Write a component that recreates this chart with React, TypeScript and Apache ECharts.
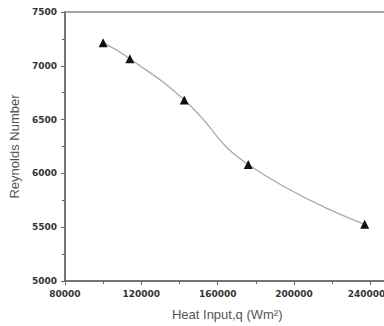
import React, { useEffect, useRef } from "react";
import * as echarts from "echarts";

// Heat input (W/m²) against Reynolds number
const heatInput = [100000, 114000, 142500, 176000, 237000];
const reynolds = [7215, 7066, 6682, 6082, 5527];

const xTicks = { min: 80000, max: 250000, interval: 40000 };
const yTicks = { min: 5000, max: 7500, interval: 500 };
const lastXLabel = 240000;

const xTitle = "Heat Input,q (Wm²)";
const yTitle = "Reynolds Number";

export default function App() {
  const ref = useRef<HTMLDivElement>(null);

  useEffect(() => {
    if (!ref.current) return;
    const chart = echarts.init(ref.current, undefined, { renderer: "svg" });
    const tickLabel = {
      color: "#333",
      fontSize: 9,
      fontWeight: "bold" as const,
      fontFamily: "DejaVu Sans",
    };
    chart.setOption({
      animation: false,
      backgroundColor: "#fff",
      grid: {
        left: 58,
        top: 12,
        right: 10.5,
        bottom: 45,
        show: true,
        borderColor: "#888",
        borderWidth: 1.5,
      },
      xAxis: {
        type: "value",
        ...xTicks,
        splitLine: { show: false },
        axisLine: { show: true, onZero: false, lineStyle: { color: "#666", width: 1.5 } },
        axisTick: { show: true, length: 4, lineStyle: { color: "#666", width: 1 } },
        minorTick: { show: true, splitNumber: 2, length: 3, lineStyle: { color: "#666" } },
        axisLabel: {
          ...tickLabel,
          margin: 8,
          showMaxLabel: false,
          formatter: (v: number) => (v === lastXLabel ? `{edge|${v}}` : String(v)),
          rich: { edge: { ...tickLabel, padding: [0, 8, 0, 0] } },
        },
        name: xTitle,
        nameLocation: "middle",
        nameGap: 27,
        nameTextStyle: { color: "#555", fontSize: 13, fontFamily: "Liberation Sans" },
      },
      yAxis: {
        type: "value",
        ...yTicks,
        splitLine: { show: false },
        axisLine: { show: true, onZero: false, lineStyle: { color: "#666", width: 1.5 } },
        axisTick: { show: true, length: 4, lineStyle: { color: "#666", width: 1 } },
        minorTick: { show: true, splitNumber: 2, length: 3, lineStyle: { color: "#666" } },
        axisLabel: { ...tickLabel, margin: 8, formatter: (v: number) => String(v) },
        name: yTitle,
        nameLocation: "middle",
        nameGap: 38,
        nameRotate: 90,
        nameTextStyle: { color: "#555", fontSize: 13, fontFamily: "Liberation Sans" },
      },
      series: [
        {
          type: "line",
          data: heatInput.map((x, i) => [x, reynolds[i]]),
          smooth: true,
          symbol: "triangle",
          symbolSize: 9,
          itemStyle: { color: "#111" },
          lineStyle: { color: "#aaa", width: 1.3 },
        },
      ],
    });
    return () => chart.dispose();
  }, []);

  return (
    <div
      style={{
        position: "fixed",
        left: 0,
        top: 0,
        width: 384,
        height: 326,
        overflow: "hidden",
        background: "#fff",
      }}
    >
      <div ref={ref} style={{ width: 400, height: 326 }} />
    </div>
  );
}
